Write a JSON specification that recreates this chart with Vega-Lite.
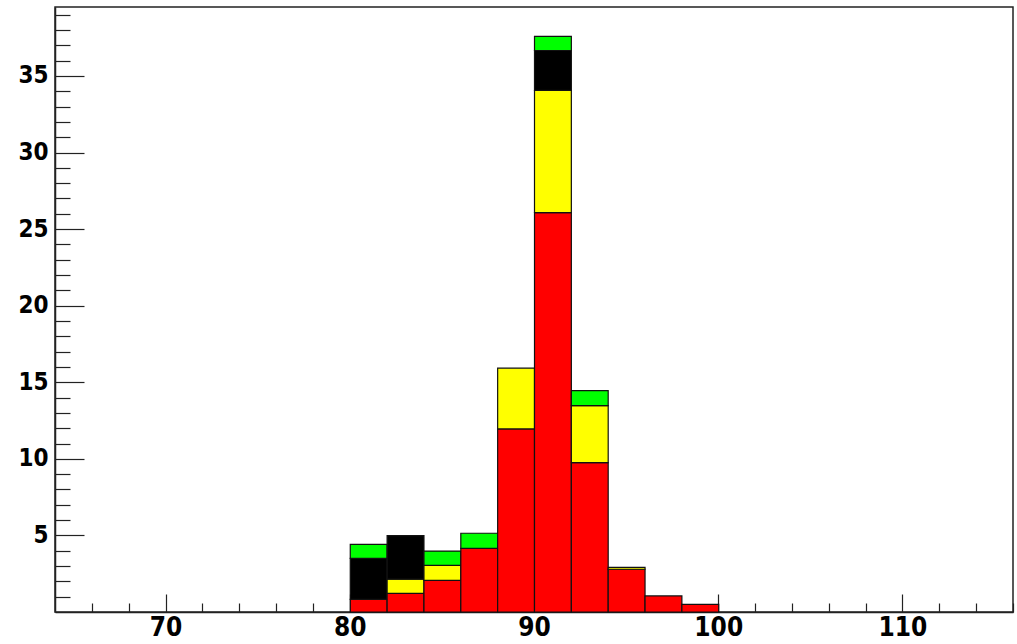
{
  "$schema": "https://vega.github.io/schema/vega-lite/v6.json",
  "width": 958,
  "height": 605,
  "autosize": {"type": "none"},
  "padding": {"left": 55, "top": 7, "right": 4, "bottom": 32},
  "background": "white",
  "config": {
    "view": {"stroke": "#222222", "strokeWidth": 1.5},
    "bar": {"binSpacing": 0},
    "axis": {
      "grid": false,
      "domainColor": "#222222",
      "domainWidth": 1.5,
      "tickColor": "#222222",
      "tickWidth": 1.2,
      "labelFont": "Liberation Sans Narrow, DejaVu Sans Condensed, Liberation Sans",
      "labelFontWeight": "bold",
      "labelFontSize": 24,
      "labelColor": "black",
      "title": null
    }
  },
  "data": {
    "values": [
      {"lo": 80, "hi": 82, "comp": "red", "k": 0, "n": 0.83},
      {"lo": 80, "hi": 82, "comp": "black", "k": 2, "n": 2.67},
      {"lo": 80, "hi": 82, "comp": "green", "k": 3, "n": 0.92},
      {"lo": 82, "hi": 84, "comp": "red", "k": 0, "n": 1.22},
      {"lo": 82, "hi": 84, "comp": "yellow", "k": 1, "n": 0.93},
      {"lo": 82, "hi": 84, "comp": "black", "k": 2, "n": 2.83},
      {"lo": 84, "hi": 86, "comp": "red", "k": 0, "n": 2.07},
      {"lo": 84, "hi": 86, "comp": "yellow", "k": 1, "n": 0.98},
      {"lo": 84, "hi": 86, "comp": "green", "k": 3, "n": 0.93},
      {"lo": 86, "hi": 88, "comp": "red", "k": 0, "n": 4.16},
      {"lo": 86, "hi": 88, "comp": "green", "k": 3, "n": 0.98},
      {"lo": 88, "hi": 90, "comp": "red", "k": 0, "n": 11.95},
      {"lo": 88, "hi": 90, "comp": "yellow", "k": 1, "n": 3.97},
      {"lo": 90, "hi": 92, "comp": "red", "k": 0, "n": 26.08},
      {"lo": 90, "hi": 92, "comp": "yellow", "k": 1, "n": 7.97},
      {"lo": 90, "hi": 92, "comp": "black", "k": 2, "n": 2.61},
      {"lo": 90, "hi": 92, "comp": "green", "k": 3, "n": 0.92},
      {"lo": 92, "hi": 94, "comp": "red", "k": 0, "n": 9.75},
      {"lo": 92, "hi": 94, "comp": "yellow", "k": 1, "n": 3.72},
      {"lo": 92, "hi": 94, "comp": "green", "k": 3, "n": 0.98},
      {"lo": 94, "hi": 96, "comp": "red", "k": 0, "n": 2.79},
      {"lo": 94, "hi": 96, "comp": "yellow", "k": 1, "n": 0.13},
      {"lo": 96, "hi": 98, "comp": "red", "k": 0, "n": 1.05},
      {"lo": 98, "hi": 100, "comp": "red", "k": 0, "n": 0.5}
    ]
  },
  "mark": {"type": "bar", "stroke": "#111111", "strokeWidth": 1.2, "opacity": 1, "binSpacing": 0},
  "encoding": {
    "x": {
      "field": "lo",
      "type": "quantitative",
      "bin": "binned",
      "scale": {"domain": [64, 116], "nice": false, "zero": false},
      "axis": {
        "values": [66, 68, 70, 72, 74, 76, 78, 80, 82, 84, 86, 88, 90, 92, 94, 96, 98, 100, 102, 104, 106, 108, 110, 112, 114, 116],
        "labelExpr": "datum.value % 10 === 0 ? datum.label : ''",
        "tickSize": {"condition": {"test": "datum.value % 10 === 0", "value": -18}, "value": -9},
        "labelPadding": 20,
        "labelFontSize": 26,
        "labelFlush": false
      }
    },
    "x2": {"field": "hi"},
    "y": {
      "field": "n",
      "type": "quantitative",
      "stack": "zero",
      "scale": {"domain": [0, 39.5], "nice": false},
      "axis": {
        "values": [1, 2, 3, 4, 5, 6, 7, 8, 9, 10, 11, 12, 13, 14, 15, 16, 17, 18, 19, 20, 21, 22, 23, 24, 25, 26, 27, 28, 29, 30, 31, 32, 33, 34, 35, 36, 37, 38, 39],
        "labelExpr": "datum.value % 5 === 0 ? datum.label : ''",
        "tickSize": {"condition": {"test": "datum.value % 5 === 0", "value": -29}, "value": -15},
        "labelPadding": 36,
        "labelFlush": false
      }
    },
    "color": {
      "field": "comp",
      "type": "nominal",
      "scale": {"domain": ["red", "yellow", "black", "green"], "range": ["#ff0000", "#ffff00", "#000000", "#00ff00"]},
      "legend": null
    },
    "order": {"field": "k", "type": "quantitative", "sort": "ascending"}
  }
}
